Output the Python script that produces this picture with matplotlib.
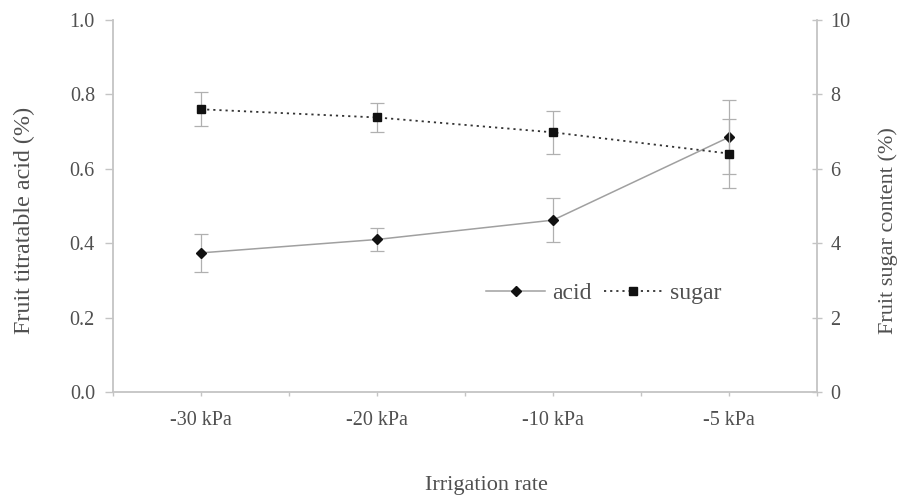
import matplotlib.pyplot as plt
from matplotlib.lines import Line2D
import numpy as np

plt.rcParams['font.family'] = ['Liberation Serif', 'DejaVu Serif']

CATEGORIES = ['-30 kPa', '-20 kPa', '-10 kPa', '-5 kPa']
ACID = [0.374, 0.410, 0.462, 0.685]
ACID_ERR = [0.051, 0.030, 0.060, 0.100]
SUGAR = [7.60, 7.38, 6.98, 6.41]
SUGAR_ERR = [0.46, 0.38, 0.58, 0.93]

AXIS_COLOR = '#c4c4c4'
TEXT_COLOR = '#505050'
ACID_STYLE = dict(color='#a0a0a0', lw=1.1, marker='D', ms=5.5, mfc='#111111', mec='#111111')
SUGAR_STYLE = dict(color='#333333', lw=1.3, ls=(0, (1.2, 2.2)), marker='s', ms=5.5,
                   mfc='#111111', mec='#111111')

x = np.arange(len(CATEGORIES)) + 0.5

fig = plt.figure(figsize=(8.98, 4.96), dpi=100)
ax1 = fig.add_axes([113 / 898, 1 - 392 / 496, 704 / 898, 372 / 496])
ax2 = ax1.twinx()

ax1.errorbar(x, ACID, yerr=ACID_ERR, ecolor='#b0b0b0', elinewidth=0.9,
             capsize=5, capthick=0.9, **ACID_STYLE)
ax2.errorbar(x, SUGAR, yerr=SUGAR_ERR, ecolor='#b0b0b0', elinewidth=0.9,
             capsize=5, capthick=0.9, **SUGAR_STYLE)

ax1.set_xlim(0, 4)
ax1.set_ylim(0, 1.0)
ax2.set_ylim(0, 10)
ax1.set_yticks(np.arange(0, 1.01, 0.2))
ax1.set_yticklabels([f'{v:.1f}' for v in np.arange(0, 1.01, 0.2)])
ax2.set_yticks(np.arange(0, 11, 2))
ax1.set_xticks(x)
ax1.set_xticklabels(CATEGORIES)
ax1.set_xticks([0, 1, 2, 3, 4], minor=True)

for ax in (ax1, ax2):
    for side in ('top', 'left', 'right', 'bottom'):
        ax.spines[side].set_visible(False)
ax1.spines['left'].set_visible(True)
ax1.spines['bottom'].set_visible(True)
ax2.spines['right'].set_visible(True)
for sp in (ax1.spines['left'], ax1.spines['bottom'], ax2.spines['right']):
    sp.set_color(AXIS_COLOR)
    sp.set_linewidth(1.3)

ax1.tick_params(axis='y', colors=AXIS_COLOR, labelcolor=TEXT_COLOR, labelsize=14.5,
                length=6, width=1, direction='out', pad=7)
ax1.tick_params(axis='x', which='both', colors=AXIS_COLOR, labelcolor=TEXT_COLOR,
                labelsize=14.5, length=3, width=1, direction='out', pad=11)
ax2.tick_params(axis='y', colors=AXIS_COLOR, labelcolor=TEXT_COLOR, labelsize=14.5,
                length=7, width=1, direction='inout', pad=6)

ax1.set_ylabel('Fruit titratable acid (%)', fontsize=17.4, color=TEXT_COLOR)
ax2.set_ylabel('Fruit sugar content (%)', fontsize=16, color=TEXT_COLOR, rotation=90)
ax1.set_xlabel('Irrigation rate', fontsize=16, color=TEXT_COLOR)
ax1.yaxis.set_label_coords(-0.111, 0.46)
ax2.yaxis.set_label_coords(1.087, 0.433)
ax1.xaxis.set_label_coords(0.53, -0.226)

handles = [Line2D([], [], **ACID_STYLE), Line2D([], [], **SUGAR_STYLE)]
leg = ax1.legend(handles, ['acid', 'sugar'], ncol=2, frameon=False, loc='center',
                 bbox_to_anchor=(0.697, 0.266), fontsize=17, handlelength=2.5,
                 handletextpad=0.3, columnspacing=0.5)
for t in leg.get_texts():
    t.set_color(TEXT_COLOR)

fig.savefig('out.png', dpi=100)
